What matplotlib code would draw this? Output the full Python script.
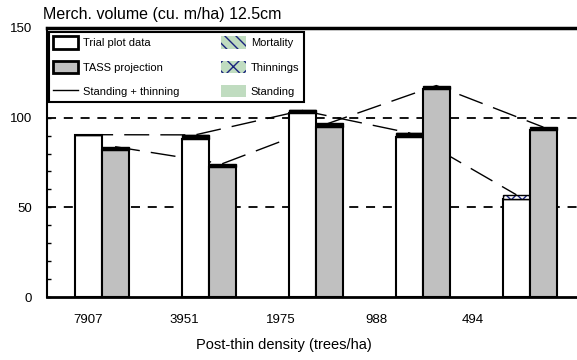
import numpy as np
import matplotlib
matplotlib.use("Agg")
import matplotlib.pyplot as plt
from matplotlib.patches import Patch
from matplotlib.lines import Line2D

plt.rcParams['font.family'] = ['Liberation Sans', 'DejaVu Sans']

# values (cu. m/ha)
densities = ['7907', '3951', '1975', '988', '494']
plot_standing = [90.5, 88.0, 102.5, 89.0, 54.5]
plot_mortality = [0.0, 2.4, 1.5, 2.5, 0.0]
plot_thinnings = [0.0, 0.0, 0.0, 0.0, 2.5]
tass_standing = [82.0, 72.5, 95.0, 116.0, 93.0]
tass_mortality = [1.8, 1.8, 2.0, 1.9, 1.7]

plot_total = np.add(np.add(plot_standing, plot_mortality), plot_thinnings)
tass_total = np.add(tass_standing, tass_mortality)

green = '#c0dcc0'
navy = '#1a237e'
grey = '#c0c0c0'

fig = plt.figure(figsize=(5.77, 3.6), dpi=100)
ax = fig.add_axes([47 / 577, 63 / 360, 1 - 47 / 577, 269 / 360])

x = np.arange(len(densities))
w = 0.252

# dashed trend lines (behind the bars)
ax.plot(x - w / 2, plot_total, color='k', lw=1, dashes=(18, 8), zorder=2)
ax.plot(x + w / 2, tass_total, color='k', lw=1, dashes=(18, 8), zorder=2)

# observed plot data
ax.bar(x - w / 2, plot_standing, w, color='white', edgecolor='k', lw=1.5, zorder=3)
ax.bar(x - w / 2, plot_mortality, w, bottom=plot_standing, color='k', edgecolor='k',
       lw=1.0, zorder=3)
ax.bar(x - w / 2, plot_thinnings, w, bottom=np.add(plot_standing, plot_mortality),
       color='white', edgecolor=navy, hatch='xxx', lw=0, zorder=3)
ax.bar(x - w / 2, plot_thinnings, w, bottom=np.add(plot_standing, plot_mortality),
       fill=False, edgecolor='k', lw=1.0, zorder=3)

# TASS projection
ax.bar(x + w / 2, tass_standing, w, color=grey, edgecolor='k', lw=1.5, zorder=3)
ax.bar(x + w / 2, tass_mortality, w, bottom=tass_standing, color='k', edgecolor='k',
       lw=1.0, zorder=3)

# dashed reference lines
for yv in [50, 100]:
    ax.axhline(yv, color='k', lw=1.3, dashes=(5, 4.3), zorder=1)

ax.set_xlim(-0.51, 4.44)
ax.set_ylim(0, 150)
ax.set_yticks([0, 50, 100, 150])
ax.set_yticks(np.arange(0, 151, 10), minor=True)
ax.tick_params(axis='y', which='both', direction='in', length=3, width=1, labelsize=9.5, pad=11)
ax.set_xticks(x * 0.9 - 0.13, densities)
ax.tick_params(axis='x', length=0, labelsize=9.5, pad=12)

ax.spines['right'].set_visible(False)
ax.spines['left'].set_linewidth(1.5)
ax.spines['bottom'].set_linewidth(2)
ax.spines['top'].set_linewidth(2.5)

fig.text(43 / 577, 1 - 15 / 360, 'Merch. volume (cu. m/ha) 12.5cm', fontsize=11.5,
         ha='left', va='center')
fig.text(284 / 577, 1 - 345 / 360, 'Post-thin density (trees/ha)', fontsize=10.5,
         ha='center', va='center')

handles = [
    Patch(facecolor='white', edgecolor='k', lw=2),
    Patch(facecolor=grey, edgecolor='k', lw=2),
    Line2D([0], [0], color='k', lw=1),
    Patch(facecolor=green, edgecolor=navy, lw=0, hatch='\\\\\\'),
    Patch(facecolor=green, edgecolor=navy, lw=0, hatch='xx'),
    Patch(facecolor=green, lw=0),
]
labels = ['Trial plot data', 'TASS projection', 'Standing + thinning',
          'Mortality', 'Thinnings', 'Standing']
leg = ax.legend(handles, labels, loc='upper left', bbox_to_anchor=(49 / 577, 1 - 32 / 360),
                bbox_transform=fig.transFigure, ncol=2, fancybox=False, framealpha=1,
                edgecolor='k', fontsize=8, handlelength=2.25, handleheight=1.3,
                labelspacing=1.1, columnspacing=3.8, handletextpad=0.4, borderpad=0.4,
                borderaxespad=0)
leg.get_frame().set_linewidth(1.5)
leg.set_zorder(5)

fig.savefig('out.png', dpi=100)
